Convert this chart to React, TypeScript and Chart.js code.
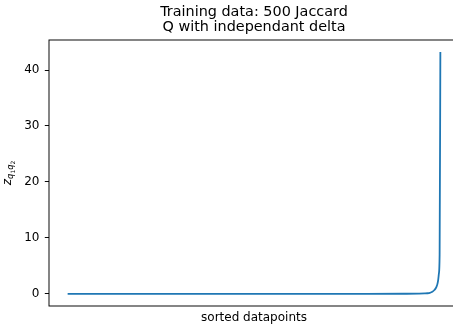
import React, { useEffect, useRef } from "react";
import { Chart, registerables } from "chart.js";

Chart.register(...registerables);

// Sorted datapoint index and the corresponding z value
const sortedIndex = [0, 100, 200, 300, 400, 450, 470, 478, 482, 485, 487, 489, 491, 493, 494, 495, 496, 497, 498, 499];
const zValues = [0.0, 0.0, 0.0, 0.01, 0.02, 0.03, 0.05, 0.08, 0.12, 0.2, 0.3, 0.45, 0.7, 1.05, 1.35, 1.75, 2.4, 3.6, 7.0, 43.2];
const yTickValues = [0, 10, 20, 30, 40];

const titleLines = ["Training data: 500 Jaccard", "Q with independant delta"];
const xLabel = "sorted datapoints";

const FONT = "'DejaVu Sans', sans-serif";
const LINE_BLUE = "#1f77b4";

const xMin = -24.95;
const xMax = 523.95;
const yMin = -2.16;
const yMax = 45.36;

// Frame around the plot area plus the subscripted y-axis label
const framePlugin = {
  id: "frameAndYLabel",
  afterDraw(chart: any) {
    const { ctx, chartArea } = chart;
    const { left, top, right, bottom } = chartArea;
    ctx.save();
    ctx.strokeStyle = "#000";
    ctx.lineWidth = 0.96;
    ctx.strokeRect(left, top, right - left, bottom - top);

    // y label: z_{q_1 q_2}
    const parts = [
      { t: "z", size: 12, dy: 0, italic: true },
      { t: "q", size: 8.4, dy: 2.0, italic: true },
      { t: "1", size: 5.9, dy: 3.8, italic: false },
      { t: "q", size: 8.4, dy: 2.0, italic: true },
      { t: "2", size: 5.9, dy: 3.8, italic: false },
    ];
    const fontFor = (p: any) => `${p.italic ? "italic " : ""}${p.size}px ${FONT}`;
    let total = 0;
    for (const p of parts) {
      ctx.font = fontFor(p);
      total += ctx.measureText(p.t).width;
    }
    const cy = (top + bottom) / 2;
    ctx.translate(11, cy);
    ctx.rotate(-Math.PI / 2);
    ctx.fillStyle = "#000";
    ctx.textBaseline = "alphabetic";
    ctx.textAlign = "left";
    let x = -total / 2;
    for (const p of parts) {
      ctx.font = fontFor(p);
      ctx.fillText(p.t, x, p.dy);
      x += ctx.measureText(p.t).width;
    }
    ctx.restore();
  },
};

export default function App() {
  const canvasRef = useRef<HTMLCanvasElement | null>(null);

  useEffect(() => {
    document.documentElement.style.overflow = "hidden";
    document.body.style.overflow = "hidden";
    const canvas = canvasRef.current;
    if (!canvas) return;
    const points = sortedIndex.map((x, i) => ({ x, y: zValues[i] }));
    const chart = new Chart(canvas, {
      type: "line",
      data: {
        datasets: [
          {
            data: points,
            borderColor: LINE_BLUE,
            borderWidth: 1.8,
            pointRadius: 0,
            cubicInterpolationMode: "monotone",
            fill: false,
          },
        ],
      },
      options: {
        responsive: false,
        animation: false,
        devicePixelRatio: 1,
        layout: { padding: { left: 0, right: 1, top: 0, bottom: 0 } },
        plugins: {
          legend: { display: false },
          tooltip: { enabled: false },
          title: {
            display: true,
            fullSize: false,
            text: titleLines,
            color: "#000",
            font: { family: FONT, size: 14.4, weight: "normal", lineHeight: 15 / 14.4 },
            padding: { top: 4.6, bottom: 5.4 },
          },
        },
        scales: {
          x: {
            type: "linear",
            min: xMin,
            max: xMax,
            ticks: { display: false },
            grid: { display: false },
            border: { display: false },
            title: {
              display: true,
              text: xLabel,
              color: "#000",
              font: { family: FONT, size: 12, lineHeight: 1.2 },
              padding: { top: 4.3, bottom: 4.3 },
            },
            afterFit(scale: any) {
              scale.height = 23;
            },
          },
          y: {
            type: "linear",
            min: yMin,
            max: yMax,
            afterBuildTicks(scale: any) {
              scale.ticks = yTickValues.map((v) => ({ value: v }));
            },
            ticks: {
              color: "#000",
              font: { family: FONT, size: 12 },
              padding: 5.4,
              includeBounds: false,
            },
            grid: {
              display: true,
              drawOnChartArea: false,
              drawTicks: true,
              tickLength: 4.2,
              tickWidth: 0.96,
              tickColor: "#000",
              color: "#000",
            },
            border: { display: false },
            afterFit(scale: any) {
              scale.width = 49;
            },
          },
        },
      },
      plugins: [framePlugin],
    });
    return () => chart.destroy();
  }, []);

  return (
    <div style={{ position: "fixed", left: 0, top: 0, width: 460, height: 329 }}>
      <canvas ref={canvasRef} width={460} height={329} style={{ width: 460, height: 329, display: "block" }} />
    </div>
  );
}
